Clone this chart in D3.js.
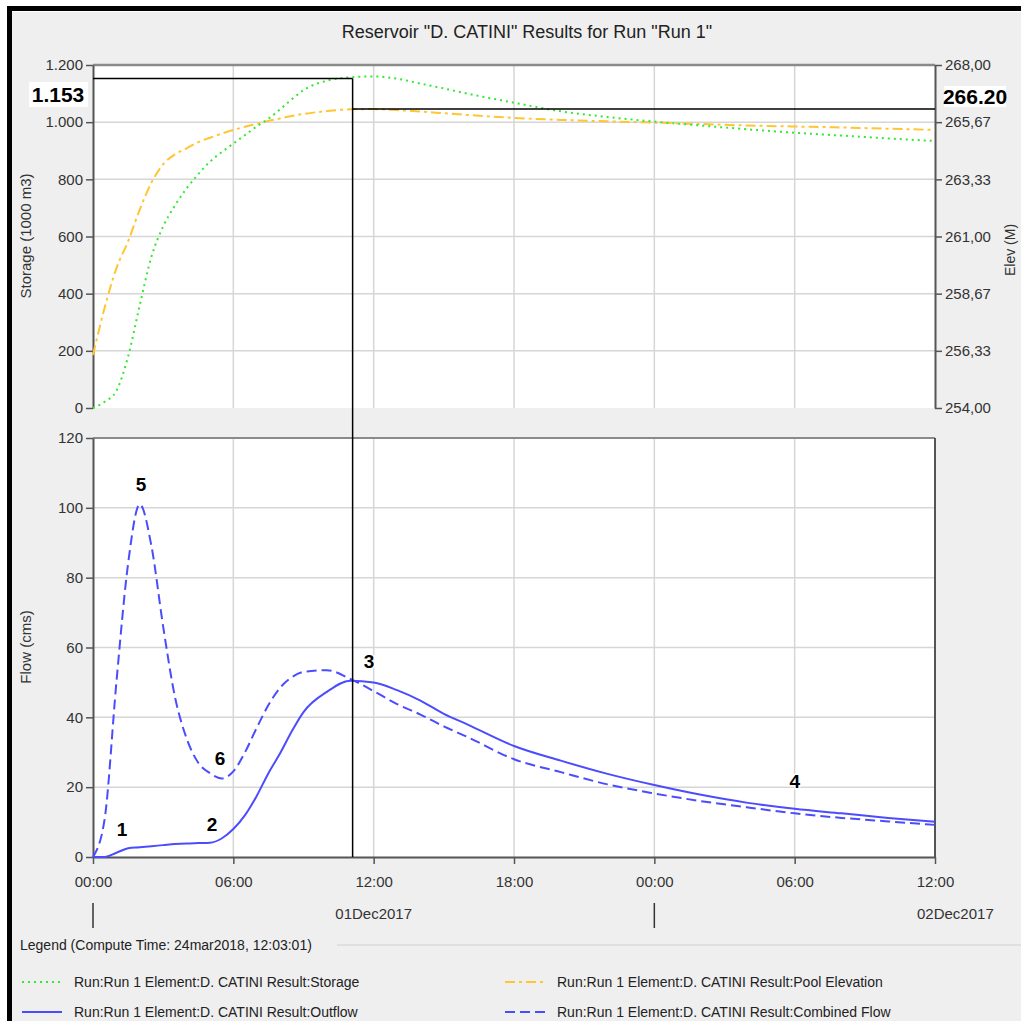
<!DOCTYPE html>
<html lang="en">
<head>
<meta charset="UTF-8">
<script src="https://d3js.org/d3.v7.min.js"></script>
<title>Reservoir D. CATINI</title>
<style>
  html, body { margin: 0; padding: 0; background: #fff; overflow: hidden; }
  svg { display: block; }
  text { font-family: "Liberation Sans Narrow", "Liberation Sans", Arial, sans-serif; }
</style>
</head>
<body>
<div id="chart"></div>
<script>
// hours after 01Dec2017 00:00
var hours = [0, 0.5, 1, 1.5, 2, 2.5, 3, 3.5, 4, 4.5, 5, 5.5, 6, 6.5, 7, 7.5, 8, 8.5, 9, 10, 11, 12, 13, 14, 15, 16, 18, 20, 22, 24, 26, 28, 30, 32, 34, 36];
var storage = [0, 22, 60, 180, 360, 530, 635, 708, 768, 818, 862, 895, 925, 955, 985, 1012, 1045, 1080, 1112, 1145, 1157, 1160, 1152, 1135, 1118, 1100, 1068, 1038, 1018, 1002, 988, 975, 963, 953, 943, 934];
var elevation = [256.16, 258.1, 259.7, 260.8, 262.1, 263.2, 263.95, 264.35, 264.6, 264.85, 265.03, 265.2, 265.35, 265.48, 265.6, 265.72, 265.82, 265.92, 266.0, 266.12, 266.19, 266.2, 266.16, 266.1, 266.03, 265.96, 265.84, 265.76, 265.7, 265.65, 265.59, 265.53, 265.49, 265.45, 265.4, 265.35];
var outflow = [0, 0, 1.2, 2.5, 2.8, 3.1, 3.4, 3.7, 3.9, 4.0, 4.1, 5.3, 8, 12, 17.5, 24, 29.7, 36, 41.5, 47.3, 50.5, 50.0, 47.8, 44.8, 41.0, 38.0, 31.8, 27.6, 23.8, 20.6, 17.8, 15.5, 13.8, 12.5, 11.2, 10.1];
var combined = [0, 11, 50, 84, 101, 89, 66, 46, 34, 27, 24, 22.5, 24.5, 30, 37, 43.5, 48.5, 51.5, 53, 53.5, 51, 47.5, 43.8, 40.8, 37.4, 34.4, 28, 24.3, 20.8, 18.2, 16, 14.2, 12.5, 11.2, 10.2, 9.2];

var storageTicks = [0, 200, 400, 600, 800, 1000, 1200];
var elevTicks = [254, 256.333, 258.667, 261, 263.333, 265.667, 268];
var flowTicks = [0, 20, 40, 60, 80, 100, 120];

// cursor readout
var cursorHour = 11.1, cursorStorage = 1153, cursorElev = 266.20;

var annotations = [
  {label: "5", hour: 2.05, flow: 104.8},
  {label: "6", hour: 5.43, flow: 26.3},
  {label: "1", hour: 1.24, flow: 6},
  {label: "2", hour: 5.09, flow: 7.4},
  {label: "3", hour: 11.8, flow: 54.1},
  {label: "4", hour: 30.0, flow: 19.8}
];

var legendItems = [
  {text: "Run:Run 1 Element:D. CATINI Result:Storage", color: "#33e833", dash: "2,4", col: 0, row: 0},
  {text: "Run:Run 1 Element:D. CATINI Result:Pool Elevation", color: "#ffc533", dash: "10,4,3,4", col: 1, row: 0},
  {text: "Run:Run 1 Element:D. CATINI Result:Outflow", color: "#4c4cff", dash: null, col: 0, row: 1},
  {text: "Run:Run 1 Element:D. CATINI Result:Combined Flow", color: "#4c4cff", dash: "10,5", col: 1, row: 1}
];

var W = 1021, H = 1021;
var svg = d3.select("#chart").append("svg").attr("width", W).attr("height", H);

// frame
svg.append("rect").attr("x", 12).attr("y", 12).attr("width", W - 12).attr("height", H - 12).attr("fill", "#efefef");
svg.append("rect").attr("x", 7).attr("y", 6).attr("width", W - 7).attr("height", 5).attr("fill", "#000");
svg.append("rect").attr("x", 7).attr("y", 6).attr("width", 5).attr("height", H - 6).attr("fill", "#000");

svg.append("text").attr("x", 527).attr("y", 38).attr("text-anchor", "middle")
  .attr("font-size", 18).attr("fill", "#222")
  .text('Reservoir "D. CATINI" Results for Run "Run 1"');

var t0 = new Date(2017, 11, 1, 0, 0);
function toDate(h) { return new Date(t0.getTime() + h * 3600000); }

var x = d3.scaleTime().domain([toDate(0), toDate(36)]).range([93, 935]);
var yS = d3.scaleLinear().domain([0, 1200]).range([408, 65]);
var yE = d3.scaleLinear().domain([254, 268]).range([408, 65]);
var yF = d3.scaleLinear().domain([0, 120]).range([857, 438]);

var xTicks = d3.range(0, 37, 6).map(toDate);

function panel(top, bottom) {
  svg.append("rect").attr("x", 93).attr("y", top).attr("width", 842).attr("height", bottom - top).attr("fill", "#fff");
  var g = svg.append("g");
  g.selectAll(".vg").data(xTicks.slice(1, -1)).enter().append("line")
    .attr("x1", d => x(d)).attr("x2", d => x(d)).attr("y1", top).attr("y2", bottom)
    .attr("stroke", "#d6d6d6").attr("stroke-width", 1.5);
  return g;
}

// ---- top panel
var gTop = panel(65, 408);
gTop.selectAll(".hg").data(storageTicks.slice(1, -1)).enter().append("line")
  .attr("x1", 93).attr("x2", 935).attr("y1", d => yS(d)).attr("y2", d => yS(d))
  .attr("stroke", "#d6d6d6").attr("stroke-width", 1.5);
svg.append("line").attr("x1", 93).attr("x2", 935).attr("y1", 65).attr("y2", 65).attr("stroke", "#8a8a8a").attr("stroke-width", 2.5);

// ---- bottom panel
var gBot = panel(438, 857);
gBot.selectAll(".hg").data(flowTicks.slice(1, -1)).enter().append("line")
  .attr("x1", 93).attr("x2", 935).attr("y1", d => yF(d)).attr("y2", d => yF(d))
  .attr("stroke", "#d6d6d6").attr("stroke-width", 1.5);
svg.append("line").attr("x1", 93).attr("x2", 935).attr("y1", 438).attr("y2", 438).attr("stroke", "#8a8a8a").attr("stroke-width", 2);

function styleAxis(sel) {
  sel.selectAll(".domain").attr("stroke", "#555").attr("stroke-width", 2);
  sel.selectAll(".tick line").attr("stroke", "#555").attr("stroke-width", 1.5);
  sel.selectAll(".tick text").attr("fill", "#333").attr("font-size", 15)
    .attr("font-family", '"Liberation Sans Narrow", "Liberation Sans", Arial, sans-serif');
}

var fmtStorage = d => d >= 1000 ? (d / 1000).toFixed(3) : String(d);

svg.append("g").attr("transform", "translate(93,0)")
  .call(d3.axisLeft(yS).tickValues(storageTicks).tickFormat(fmtStorage).tickSize(7).tickPadding(3).tickSizeOuter(0))
  .call(styleAxis);
svg.append("g").attr("transform", "translate(935,0)")
  .call(d3.axisRight(yE).tickValues(elevTicks).tickFormat(d => d.toFixed(2).replace(".", ",")).tickSize(7).tickPadding(3).tickSizeOuter(0))
  .call(styleAxis);
svg.append("g").attr("transform", "translate(93,0)")
  .call(d3.axisLeft(yF).tickValues(flowTicks).tickSize(7).tickPadding(3).tickSizeOuter(0))
  .call(styleAxis);
svg.append("line").attr("x1", 935).attr("x2", 935).attr("y1", 438).attr("y2", 857).attr("stroke", "#555").attr("stroke-width", 2);
svg.append("g").attr("transform", "translate(0,857)")
  .call(d3.axisBottom(x).tickValues(xTicks).tickFormat(d3.timeFormat("%H:%M")).tickSize(7).tickPadding(12).tickSizeOuter(0))
  .call(styleAxis);

// date row
svg.append("text").attr("x", x(toDate(12))).attr("y", 919).attr("text-anchor", "middle")
  .attr("font-size", 15).attr("fill", "#333").text("01Dec2017");
svg.append("text").attr("x", x(toDate(36)) - 18).attr("y", 919).attr("text-anchor", "start")
  .attr("font-size", 15).attr("fill", "#333").text("02Dec2017");
[0, 24].forEach(function (h) {
  svg.append("line").attr("x1", x(toDate(h))).attr("x2", x(toDate(h))).attr("y1", 903).attr("y2", 928)
    .attr("stroke", "#333").attr("stroke-width", 1.5);
});

// axis titles
svg.append("text").attr("transform", "translate(31,236) rotate(-90)").attr("text-anchor", "middle")
  .attr("font-size", 15).attr("fill", "#333").text("Storage (1000 m3)");
svg.append("text").attr("transform", "translate(31,647) rotate(-90)").attr("text-anchor", "middle")
  .attr("font-size", 15).attr("fill", "#333").text("Flow (cms)");
svg.append("text").attr("transform", "translate(1015,250) rotate(-90)").attr("text-anchor", "middle")
  .attr("font-size", 14).attr("fill", "#333").text("Elev (M)");

// series
function series(vals) {
  return hours.map((h, i) => ({d: toDate(h), v: vals[i]}));
}
function draw(vals, yScale, color, dash) {
  var line = d3.line().x(p => x(p.d)).y(p => yScale(p.v)).curve(d3.curveMonotoneX);
  var p = svg.append("path").datum(series(vals)).attr("fill", "none")
    .attr("stroke", color).attr("stroke-width", 2).attr("d", line);
  if (dash) p.attr("stroke-dasharray", dash);
}
draw(elevation, yE, legendItems[1].color, legendItems[1].dash);
draw(storage, yS, legendItems[0].color, legendItems[0].dash);
draw(outflow, yF, legendItems[2].color, legendItems[2].dash);
draw(combined, yF, legendItems[3].color, legendItems[3].dash);

// cursor lines
var cx = x(toDate(cursorHour));
svg.append("line").attr("x1", 93).attr("x2", cx).attr("y1", yS(cursorStorage)).attr("y2", yS(cursorStorage)).attr("stroke", "#000").attr("stroke-width", 1.5);
svg.append("line").attr("x1", cx).attr("x2", 935).attr("y1", yE(cursorElev)).attr("y2", yE(cursorElev)).attr("stroke", "#000").attr("stroke-width", 1.5);
svg.append("line").attr("x1", cx).attr("x2", cx).attr("y1", yS(cursorStorage)).attr("y2", yF(0)).attr("stroke", "#000").attr("stroke-width", 1.5);

svg.append("rect").attr("x", 29).attr("y", 82).attr("width", 59).attr("height", 25).attr("fill", "#fff");
svg.append("text").attr("x", 58).attr("y", 102).attr("text-anchor", "middle").attr("font-size", 21)
  .attr("font-weight", "bold").attr("fill", "#000").text(d3.format(".3f")(cursorStorage / 1000));
svg.append("rect").attr("x", 944).attr("y", 86).attr("width", 62).attr("height", 21).attr("fill", "#fff");
svg.append("text").attr("x", 975).attr("y", 104).attr("text-anchor", "middle").attr("font-size", 21)
  .attr("font-weight", "bold").attr("fill", "#000").text(cursorElev.toFixed(2));

// point labels
svg.selectAll(".ann").data(annotations).enter().append("text")
  .attr("x", d => x(toDate(d.hour))).attr("y", d => yF(d.flow)).attr("text-anchor", "middle")
  .attr("font-size", 19).attr("font-weight", "bold").attr("fill", "#000")
  .attr("stroke", "#fff").attr("stroke-width", 3).attr("paint-order", "stroke")
  .text(d => d.label);

// legend
svg.append("text").attr("x", 20).attr("y", 950).attr("font-size", 14).attr("fill", "#222")
  .text("Legend (Compute Time: 24mar2018, 12:03:01)");
svg.append("line").attr("x1", 337).attr("x2", W).attr("y1", 945).attr("y2", 945).attr("stroke", "#d0d0d0").attr("stroke-width", 1);
var lg = svg.selectAll(".lg").data(legendItems).enter().append("g")
  .attr("transform", d => "translate(" + (d.col ? 505 : 22) + "," + (d.row ? 1012 : 982) + ")");
lg.append("line").attr("x1", 0).attr("x2", 40).attr("y1", 0).attr("y2", 0)
  .attr("stroke", d => d.color).attr("stroke-width", 2).attr("stroke-dasharray", d => d.dash);
lg.append("text").attr("x", 52).attr("y", 5).attr("font-size", 14).attr("fill", "#222").text(d => d.text);
</script>
</body>
</html>
